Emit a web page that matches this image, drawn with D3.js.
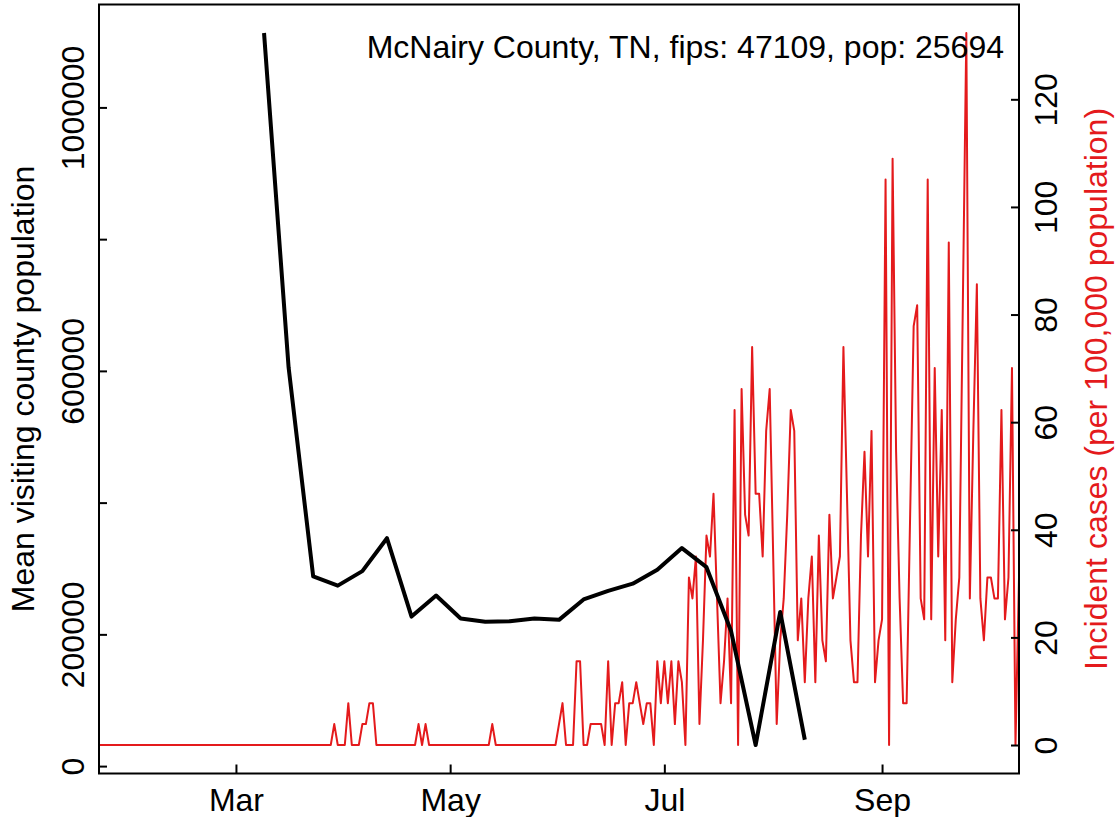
<!DOCTYPE html>
<html>
<head>
<meta charset="utf-8">
<script src="https://cdn.jsdelivr.net/npm/d3@7"></script>
<style>
    body { margin: 0; background: #fff; }
    text { font-family: "Liberation Sans", Arial, Helvetica, sans-serif; }
</style>
</head>
<body>
<div id="chart"></div>
<script>
// county info
var countyTitle = "McNairy County, TN, fips: 47109, pop: 25694";
var countyPop = 25694;

// weekly mean visiting county population (black line)
var visitDates = ["2020-03-09", "2020-03-16", "2020-03-23", "2020-03-30", "2020-04-06",
    "2020-04-13", "2020-04-20", "2020-04-27", "2020-05-04", "2020-05-11", "2020-05-18",
    "2020-05-25", "2020-06-01", "2020-06-08", "2020-06-15", "2020-06-22", "2020-06-29",
    "2020-07-06", "2020-07-13", "2020-07-20", "2020-07-27", "2020-08-03", "2020-08-10"];
var visitValues = [1113000, 605000, 288000, 274000, 296000,
    346000, 227000, 259000, 224000, 219000, 220000,
    224000, 222000, 253000, 266000, 277000, 298000,
    331000, 302000, 205000, 32000, 234000, 40000];

// daily new cases, one value per day starting at caseStart
var caseStart = "2020-01-22";
var caseCounts = [
    0, 0, 0, 0, 0, 0, 0, 0, 0, 0,
    0, 0, 0, 0, 0, 0, 0, 0, 0, 0, 0, 0, 0, 0, 0, 0, 0, 0, 0, 0, 0, 0, 0, 0, 0, 0, 0, 0, 0,
    0, 0, 0, 0, 0, 0, 0, 0, 0, 0, 0, 0, 0, 0, 0, 0, 0, 0, 0, 0, 0, 0, 0, 0, 0, 0, 0, 0, 1, 0, 0,
    0, 2, 0, 0, 0, 1, 1, 2, 2, 0, 0, 0, 0, 0, 0, 0, 0, 0, 0, 0, 0, 1, 0, 1, 0, 0, 0, 0, 0, 0,
    0, 0, 0, 0, 0, 0, 0, 0, 0, 0, 0, 0, 1, 0, 0, 0, 0, 0, 0, 0, 0, 0, 0, 0, 0, 0, 0, 0, 0, 0, 0,
    1, 2, 0, 0, 0, 4, 4, 0, 0, 1, 1, 1, 1, 0, 4, 0, 2, 2, 3, 0, 2, 2, 3, 2, 1, 2, 2, 0, 4, 2,
    4, 2, 4, 1, 4, 3, 0, 8, 7, 9, 1, 5, 10, 9, 12, 7, 2, 4, 7, 2, 16, 0, 17, 11, 10, 19, 12, 12, 9, 15, 17,
    9, 1, 5, 7, 11, 16, 15, 5, 7, 3, 7, 9, 3, 10, 5, 4, 11, 7, 8, 9, 19, 12, 5, 3, 3, 10, 14, 9, 15, 3, 5,
    6, 27, 0, 28, 14, 7, 2, 2, 11, 20, 21, 7, 6, 27, 6, 18, 9, 16, 5, 24, 3, 6, 8, 21, 34, 7, 15, 22, 7, 5,
    8, 8, 7, 7, 16, 6, 8, 18, 0, 8];

// axis ticks
var monthTicks = ["2020-03-01", "2020-05-01", "2020-07-01", "2020-09-01"];
var monthLabels = ["Mar", "May", "Jul", "Sep"];
var leftTicks = [0, 200000, 400000, 600000, 800000, 1000000];
var leftLabels = ["0", "200000", "", "600000", "", "1000000"];
var rightTicks = [0, 20, 40, 60, 80, 100, 120];

function init() {
    var W = 1119;
    var H = 817;
    var left = 99, right = 1019, top = 4.5, bottom = 773.5;
    var red = "#e41a1c";
    var fontSize = 32;

    var parse = d3.timeParse("%Y-%m-%d");

    var visits = visitDates.map(function (d, i) {
        return { date: parse(d), value: visitValues[i] };
    });

    var start = parse(caseStart);
    var cases = caseCounts.map(function (c, i) {
        return { date: d3.timeDay.offset(start, i), value: c / countyPop * 100000 };
    });

    // R style 4% padding around the data range
    function pad(ext) {
        var r = ext[1] - ext[0];
        return [ext[0] - 0.04 * r, ext[1] + 0.04 * r];
    }

    var xScale = d3.scaleTime()
        .domain([cases[0].date, cases[cases.length - 1].date])
        .range([left, right]);

    var yLeft = d3.scaleLinear()
        .domain(pad(d3.extent(visitValues)))
        .range([bottom, top]);

    var yRight = d3.scaleLinear()
        .domain(pad(d3.extent(cases, function (d) { return d.value; })))
        .range([bottom, top]);

    var svg = d3.select("#chart")
        .append("svg")
        .attr("width", W)
        .attr("height", H);

    svg.append("defs")
        .append("clipPath")
        .attr("id", "plotclip")
        .append("rect")
        .attr("x", left)
        .attr("y", top)
        .attr("width", right - left)
        .attr("height", bottom - top);

    var plot = svg.append("g").attr("clip-path", "url(#plotclip)");

    // incident cases
    var caseLine = d3.line()
        .x(function (d) { return xScale(d.date); })
        .y(function (d) { return yRight(d.value); });

    plot.append("path")
        .datum(cases)
        .attr("fill", "none")
        .attr("stroke", red)
        .attr("stroke-width", 2)
        .attr("stroke-linejoin", "round")
        .attr("d", caseLine);

    // visiting population
    var visitLine = d3.line()
        .x(function (d) { return xScale(d.date); })
        .y(function (d) { return yLeft(d.value); });

    plot.append("path")
        .datum(visits)
        .attr("fill", "none")
        .attr("stroke", "#000")
        .attr("stroke-width", 4)
        .attr("stroke-linejoin", "round")
        .attr("d", visitLine);

    // axes, ticks pointing inwards
    var xAxis = d3.axisBottom(xScale)
        .tickValues(monthTicks.map(parse))
        .tickFormat(function (d, i) { return monthLabels[i]; })
        .tickSizeInner(-9)
        .tickSizeOuter(0);

    var gx = svg.append("g")
        .attr("transform", "translate(0," + bottom + ")")
        .call(xAxis);

    gx.selectAll("text")
        .attr("y", 37)
        .attr("dy", null);

    var gl = svg.append("g")
        .attr("transform", "translate(" + left + ",0)")
        .call(d3.axisLeft(yLeft)
            .tickValues(leftTicks)
            .tickFormat(function (d, i) { return leftLabels[i]; })
            .tickSizeInner(-8)
            .tickSizeOuter(0));

    gl.selectAll("text")
        .attr("x", null)
        .attr("dy", null)
        .attr("text-anchor", "middle")
        .attr("transform", "translate(-15,0) rotate(-90)");

    var gr = svg.append("g")
        .attr("transform", "translate(" + right + ",0)")
        .call(d3.axisRight(yRight)
            .tickValues(rightTicks)
            .tickSizeInner(-8)
            .tickSizeOuter(0));

    gr.selectAll("text")
        .attr("x", null)
        .attr("dy", null)
        .attr("text-anchor", "middle")
        .attr("transform", "translate(38,0) rotate(-90)");

    [gx, gl, gr].forEach(function (g) {
        g.select(".domain").remove();
        g.selectAll("line").attr("stroke", "#000").attr("stroke-width", 2);
        g.selectAll("text")
            .attr("fill", "#000")
            .style("font-size", fontSize + "px")
            .style("font-family", "'Liberation Sans', Arial, Helvetica, sans-serif");
    });

    // frame
    svg.append("rect")
        .attr("x", left)
        .attr("y", top)
        .attr("width", right - left)
        .attr("height", bottom - top)
        .attr("fill", "none")
        .attr("stroke", "#000")
        .attr("stroke-width", 2);

    // axis titles
    svg.append("text")
        .attr("transform", "translate(34," + (top + bottom) / 2 + ") rotate(-90)")
        .attr("text-anchor", "middle")
        .style("font-size", fontSize + "px")
        .attr("fill", "#000")
        .text("Mean visiting county population");

    svg.append("text")
        .attr("transform", "translate(1107," + (top + bottom) / 2 + ") rotate(-90)")
        .attr("text-anchor", "middle")
        .style("font-size", fontSize + "px")
        .attr("fill", red)
        .text("Incident cases (per 100,000 population)");

    // county label
    svg.append("text")
        .attr("x", 1004)
        .attr("y", 58)
        .attr("text-anchor", "end")
        .style("font-size", fontSize + "px")
        .attr("fill", "#000")
        .text(countyTitle);
}

window.onload = init;
</script>
</body>
</html>
